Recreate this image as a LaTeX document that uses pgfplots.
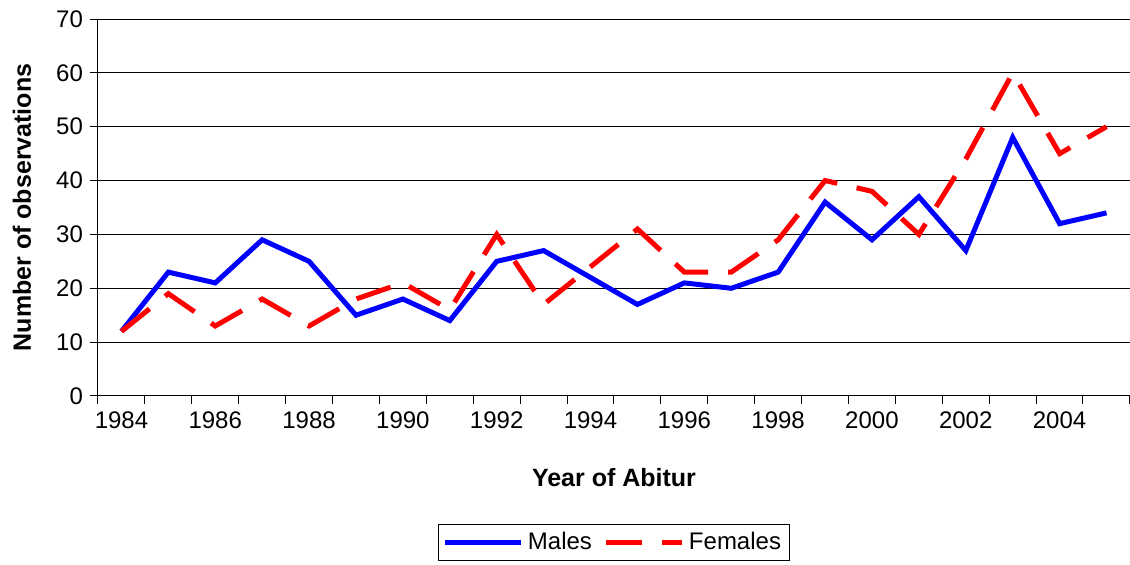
\documentclass[border=0pt]{standalone}
\usepackage{fontspec}
\setmainfont{Liberation Sans}
\usepackage{pgfplots}
\pgfplotsset{compat=1.18}
\begin{document}
\begin{tikzpicture}
\useasboundingbox (-49pt,-84.5pt) rectangle (516pt,198pt);
\begin{axis}[
  scale only axis, width=516pt, height=188.5pt,
  xmin=1983.5, xmax=2005.5, ymin=0, ymax=70,
  axis lines=left, axis line style={-, line width=0.5pt, black},
  ytick={0,10,...,70},
  ymajorgrids, major grid style={black, line width=0.5pt},
  xtick={1983.5,1984.5,...,2005.5},
  xticklabels={1984,,1986,,1988,,1990,,1992,,1994,,1996,,1998,,2000,,2002,,2004,,},
  xticklabel style={xshift=11.727pt, anchor=base, yshift=-12.5pt},
  tick align=outside, major tick length=4pt, tick style={black, line width=0.5pt},
  /pgf/number format/assume math mode=true,
  tick label style={font=\fontsize{12}{14}\selectfont},
  ylabel={Number of observations},
  xlabel={Year of Abitur},
  every axis y label/.style={at={(axis description cs:-0.0736,0.5)}, rotate=90, anchor=center, font=\bfseries\fontsize{12.5}{15}\selectfont},
  every axis x label/.style={at={(axis description cs:0.5,-0.2414)}, anchor=base, font=\bfseries\fontsize{12.5}{15}\selectfont},
  legend columns=2,
  legend style={at={(0.5,-0.3395)}, anchor=north, draw=black, line width=0.5pt,
    font=\fontsize{12}{14}\selectfont, inner xsep=2pt, inner ysep=2pt,
    /tikz/every even column/.append style={column sep=4pt}},
  legend image code/.code={\draw[#1] (0pt,0pt) -- (38pt,0pt);},
]
\addplot[color={rgb,255:red,0;green,0;blue,255}, line width=2.5pt, line join=miter] coordinates {
(1984,12) (1985,23) (1986,21) (1987,29) (1988,25) (1989,15) (1990,18) (1991,14)
(1992,25) (1993,27) (1994,22) (1995,17) (1996,21) (1997,20) (1998,23) (1999,36)
(2000,29) (2001,37) (2002,27) (2003,48) (2004,32) (2005,34)};
\addlegendentry{Males}
\addplot[color={rgb,255:red,255;green,0;blue,0}, line width=2.5pt, line cap=butt, dash pattern=on 18pt off 10pt] coordinates {
(1984,12) (1985,19) (1986,13) (1987,18) (1988,13) (1989,18) (1990,21) (1991,16)
(1992,30) (1993,17) (1994,24) (1995,31) (1996,23) (1997,23) (1998,29) (1999,40)
(2000,38) (2001,30) (2002,44) (2003,60) (2004,45) (2005,50)};
\addlegendentry{Females}
\end{axis}
\end{tikzpicture}
\end{document}
